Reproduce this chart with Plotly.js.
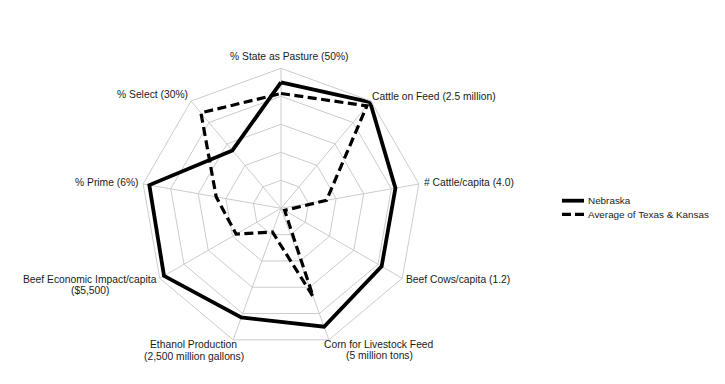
<!DOCTYPE html>
<html>
<head>
<meta charset="utf-8">
<script src="https://cdn.plot.ly/plotly-3.0.1.min.js"></script>
<style>html,body{margin:0;padding:0;background:#fff;}#chart{width:725px;height:384px;}</style>
</head>
<body>
<div id="chart"></div>
<script>
// ---- data ----
var categories = [
  "% State as Pasture (50%)",
  "Cattle on Feed (2.5 million)",
  "# Cattle/capita (4.0)",
  "Beef Cows/capita (1.2)",
  "Corn for Livestock Feed<br>(5 million tons)",
  "Ethanol Production<br>(2,500 million gallons)",
  "Beef Economic Impact/capita<br>($5,500)",
  "% Prime (6%)",
  "% Select (30%)"
];
var nebraska = [0.90, 0.99, 0.83, 0.83, 0.90, 0.83, 0.965, 0.955, 0.54];
var texasKansas = [0.82, 0.955, 0.33, 0.03, 0.67, 0.18, 0.37, 0.47, 0.89];
var seriesNames = ["Nebraska", "Average of Texas & Kansas"];

// ---- layout config (label placement relative to each spoke end, px) ----
var W = 725, H = 384, CX = 281, CY = 208.3, R = 140;
var labelPlacement = [
  ['center', 8, -11.6],
  ['left', 0.7, -4.3],
  ['left', 5.4, -1.3],
  ['left', 3.8, 1.7],
  ['center', 50.6, 4.4],
  ['center', -39.6, 5.1],
  ['center', -69.8, 0.7],
  ['right', -4, -1.3],
  ['right', -2.7, -6.3]
];
var lineGap = 11.5;
var FONT = '"Liberation Sans", Arial, Helvetica, sans-serif';

function closed(a){ return a.concat([a[0]]); }

var traces = [
  {type:'scatterpolar', mode:'lines', name:seriesNames[0],
   r:closed(nebraska), theta:closed(categories),
   line:{color:'#000', width:3.8}, showlegend:false},
  {type:'scatterpolar', mode:'lines', name:seriesNames[1],
   r:closed(texasKansas), theta:closed(categories),
   line:{color:'#000', width:3.2, dash:'9px,4.5px'}, showlegend:false}
];

var annotations = [];
var n = categories.length;
categories.forEach(function(cat, i){
  var th = i * 2 * Math.PI / n;
  var vx = CX + R * Math.sin(th), vy = CY - R * Math.cos(th);
  var p = labelPlacement[i];
  var lines = cat.split('<br>');
  lines.forEach(function(t, j){
    annotations.push({
      xref:'paper', yref:'paper',
      x:(vx + p[1]) / W, y:1 - (vy + p[2] + j * lineGap) / H,
      xanchor:p[0], yanchor:'middle', text:t, showarrow:false,
      borderpad:0, borderwidth:0,
      font:{family:FONT, size:10.3, color:'#1a1a1a'}
    });
  });
});

// custom legend
var legendX0 = 562, legendX1 = 584, legendTextX = 588, legendY = [200.7, 214.3];
var shapes = [];
var styles = [traces[0].line, traces[1].line];
seriesNames.forEach(function(name, i){
  shapes.push({type:'line', xref:'paper', yref:'paper',
    x0:legendX0 / W, x1:legendX1 / W, y0:1 - legendY[i] / H, y1:1 - legendY[i] / H,
    line:{color:'#000', width:i === 0 ? 3.8 : 3.2, dash:i === 0 ? 'solid' : '9px,4px'}});
  annotations.push({xref:'paper', yref:'paper', x:legendTextX / W, y:1 - legendY[i] / H,
    xanchor:'left', yanchor:'middle', text:name.replace('&', '&amp;'), showarrow:false,
    borderpad:0, borderwidth:0, font:{family:FONT, size:9.9, color:'#1a1a1a'}});
});

var layout = {
  width:W, height:H,
  margin:{l:0, r:0, t:0, b:0},
  paper_bgcolor:'#fff',
  font:{family:FONT, size:10.3, color:'#1a1a1a'},
  showlegend:false,
  annotations:annotations,
  shapes:shapes,
  polar:{
    domain:{x:[(CX - R) / W, (CX + R) / W], y:[(H - CY - R) / H, (H - CY + R) / H]},
    gridshape:'linear',
    bgcolor:'#fff',
    radialaxis:{range:[0, 1], dtick:0.2, showticklabels:false, ticks:'', showline:false, gridcolor:'#cccccc', gridwidth:1},
    angularaxis:{type:'category', rotation:90, direction:'clockwise', showline:true, linecolor:'#cccccc', linewidth:1, gridcolor:'#cccccc', ticks:'', showticklabels:false}
  }
};

Plotly.newPlot('chart', traces, layout, {displayModeBar:false, staticPlot:true});
</script>
</body>
</html>
